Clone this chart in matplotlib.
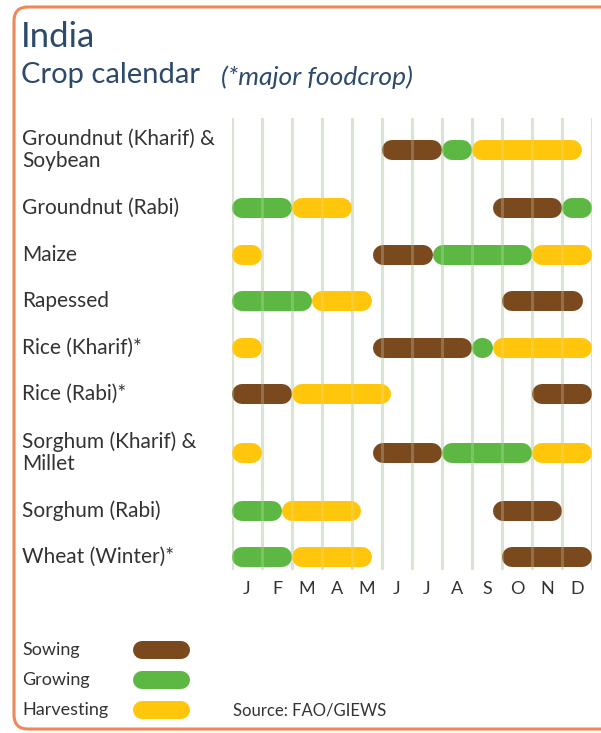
import matplotlib.pyplot as plt
from matplotlib.patches import FancyBboxPatch
import numpy as np

plt.rcParams['font.family'] = ['Lato', 'DejaVu Sans']

months = ["J", "F", "M", "A", "M", "J", "J", "A", "S", "O", "N", "D"]
crops = [
    "Groundnut (Kharif) &\nSoybean",
    "Groundnut (Rabi)",
    "Maize",
    "Rapessed",
    "Rice (Kharif)*",
    "Rice (Rabi)*",
    "Sorghum (Kharif) &\nMillet",
    "Sorghum (Rabi)",
    "Wheat (Winter)*",
]

# (start, end) in months from 1 January, one list per crop
sowing = [
    [(5.0, 7.0)],
    [(8.7, 11.0)],
    [(4.7, 6.7)],
    [(9.0, 11.7)],
    [(4.7, 8.0)],
    [(0.0, 2.0), (10.0, 12.0)],
    [(4.7, 7.0)],
    [(8.7, 11.0)],
    [(9.0, 12.0)],
]
growing = [
    [(7.0, 8.0)],
    [(0.0, 2.0), (11.0, 12.0)],
    [(6.7, 10.0)],
    [(0.0, 2.65)],
    [(8.0, 8.7)],
    [],
    [(7.0, 10.0)],
    [(0.0, 1.65)],
    [(0.0, 2.0)],
]
harvesting = [
    [(8.0, 11.65)],
    [(2.0, 4.0)],
    [(0.0, 1.0), (10.0, 12.0)],
    [(2.65, 4.65)],
    [(0.0, 1.0), (8.7, 12.0)],
    [(2.0, 5.3)],
    [(0.0, 1.0), (10.0, 12.0)],
    [(1.65, 4.3)],
    [(2.0, 4.65)],
]

stages = ["Sowing", "Growing", "Harvesting"]
stage_colors = ["#7A4A1E", "#5DB843", "#FFC60B"]
title_color = "#2D4A6B"
text_color = "#333333"
grid_color = "#D9E5D2"

W, H, DPI = 601, 733, 100
fig = plt.figure(figsize=(W / DPI, H / DPI), dpi=DPI)

# background layer in pixel coordinates (frame, titles, labels, legend)
bg = fig.add_axes([0, 0, 1, 1])
bg.set_xlim(0, W)
bg.set_ylim(H, 0)
bg.axis("off")

frame = FancyBboxPatch((14, 7), 620, 722, boxstyle="round,pad=0,rounding_size=14",
                       facecolor="white", edgecolor="#EE875A", linewidth=2.2)
bg.add_patch(frame)

bg.text(21, 37, "India", fontsize=25, color=title_color, va="center", ha="left")
bg.text(21, 75, "Crop calendar", fontsize=21, color=title_color, va="center", ha="left")
bg.text(221, 77, "(*major foodcrop)", fontsize=19, style="italic", color=title_color,
        va="center", ha="left")

# chart area: x in months, y in pixel rows
x0, x1, y0, y1 = 232, 592, 118, 570
ax = fig.add_axes([x0 / W, 1 - y1 / H, (x1 - x0) / W, (y1 - y0) / H])
ax.set_xlim(0, 12)
ax.set_ylim(y1, y0)
ax.patch.set_alpha(0)
for s in ax.spines.values():
    s.set_visible(False)
ax.set_yticks([])
ax.set_xticks(np.arange(12) + 0.5, months)
ax.tick_params(axis="x", length=0, pad=8, labelsize=13, labelcolor=text_color)

# row centres from label line counts
row_h = [70 if "\n" in c else 46.5 for c in crops]
row_y = 115 + np.cumsum(row_h) - np.array(row_h) / 2

for m in range(13):
    ax.axvline(m, color=grid_color, lw=2.2, zorder=1)

bar_px = 20
cap = (bar_px / 2) / 30  # cap radius in months (30 px per month)
lw_pt = bar_px * 72 / DPI

for series, color in zip([sowing, growing, harvesting], stage_colors):
    for y, segs in zip(row_y, series):
        for s, e in segs:
            a, b = s + cap, e - cap
            if b < a:
                a = b = (s + e) / 2
            ax.plot([a, b], [y, y], color=color, lw=lw_pt, solid_capstyle="round", zorder=3)

for m in range(13):
    ax.axvline(m, color=grid_color, lw=2.2, alpha=0.25, zorder=4)

for label, y in zip(crops, row_y):
    bg.text(22, y, label, fontsize=15, color=text_color, va="center", ha="left",
            linespacing=1.1)

# legend
leg_y = [650, 680, 710]
for name, color, y in zip(stages, stage_colors, leg_y):
    bg.text(22, y, name, fontsize=13, color=text_color, va="center", ha="left")
    bg.plot([133 + 9, 190 - 9], [y, y], color=color, lw=18 * 72 / DPI,
            solid_capstyle="round")
bg.text(233, 710, "Source: FAO/GIEWS", fontsize=12, color=text_color, va="center", ha="left")

fig.savefig("out.png", dpi=DPI)
